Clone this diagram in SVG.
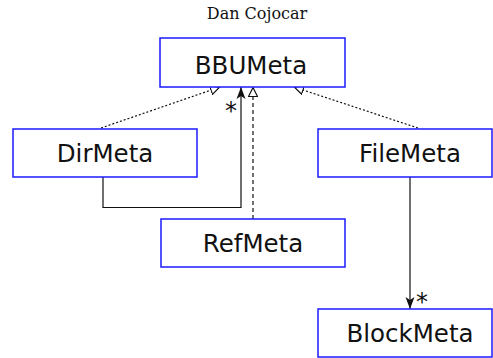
<svg xmlns="http://www.w3.org/2000/svg" width="493" height="358" viewBox="0 0 493 358">
  <style>
    .box { fill: #ffffff; stroke: #1a1aff; stroke-width: 1.5; }
    .label { font-family: "DejaVu Sans", sans-serif; font-size: 24.5px; fill: #111111; text-anchor: middle; }
    .title { font-family: "DejaVu Serif", serif; font-size: 16px; fill: #111111; text-anchor: middle; }
    .mult { font-family: "DejaVu Sans", sans-serif; font-size: 24px; fill: #111111; text-anchor: middle; }
    .edge { fill: none; stroke: #111111; stroke-width: 1.2; }
    .dotted { stroke-dasharray: 2 2; }
    .dashed { stroke-dasharray: 4 3; }
  </style>
  <defs>
    <marker id="hollow" viewBox="0 0 10 10" refX="10" refY="5" markerWidth="10" markerHeight="10" markerUnits="userSpaceOnUse" orient="auto">
      <path d="M0.5,0.5 L9.5,5 L0.5,9.5 Z" fill="#ffffff" stroke="#111111" stroke-width="1.2"/>
    </marker>
    <marker id="filled" viewBox="0 0 12 10" refX="12" refY="5" markerWidth="12" markerHeight="10" markerUnits="userSpaceOnUse" orient="auto">
      <path d="M0,0.5 L12,5 L0,9.5 L3,5 Z" fill="#111111"/>
    </marker>
  </defs>

  <text class="title" x="257" y="19">Dan Cojocar</text>

  <g id="connectors">
    <!-- generalisations into BBUMeta -->
    <line class="edge dotted" x1="101" y1="128" x2="220" y2="87" marker-end="url(#hollow)"/>
    <line class="edge dotted" x1="418" y1="128" x2="294" y2="87" marker-end="url(#hollow)"/>
    <line class="edge dashed" x1="253" y1="219" x2="253" y2="87" marker-end="url(#hollow)"/>
    <!-- DirMeta association to BBUMeta -->
    <polyline class="edge" points="103,177 103,207.5 241,207.5 241,87" marker-end="url(#filled)"/>
    <text class="mult" x="231" y="119">*</text>
    <!-- FileMeta association to BlockMeta -->
    <line class="edge" x1="410" y1="177" x2="410" y2="309" marker-end="url(#filled)"/>
    <text class="mult" x="422" y="310">*</text>
  </g>

  <g id="BBUMeta">
    <rect class="box" x="160" y="38" width="185" height="49"/>
    <text class="label" x="251" y="74">BBUMeta</text>
  </g>
  <g id="DirMeta">
    <rect class="box" x="13" y="129" width="184" height="48"/>
    <text class="label" x="105" y="162">DirMeta</text>
  </g>
  <g id="FileMeta">
    <rect class="box" x="318" y="129" width="174" height="48"/>
    <text class="label" x="410" y="162">FileMeta</text>
  </g>
  <g id="RefMeta">
    <rect class="box" x="161" y="219" width="184" height="48"/>
    <text class="label" x="253" y="252">RefMeta</text>
  </g>
  <g id="BlockMeta">
    <rect class="box" x="318" y="309" width="174" height="48"/>
    <text class="label" x="410" y="342">BlockMeta</text>
  </g>
</svg>
